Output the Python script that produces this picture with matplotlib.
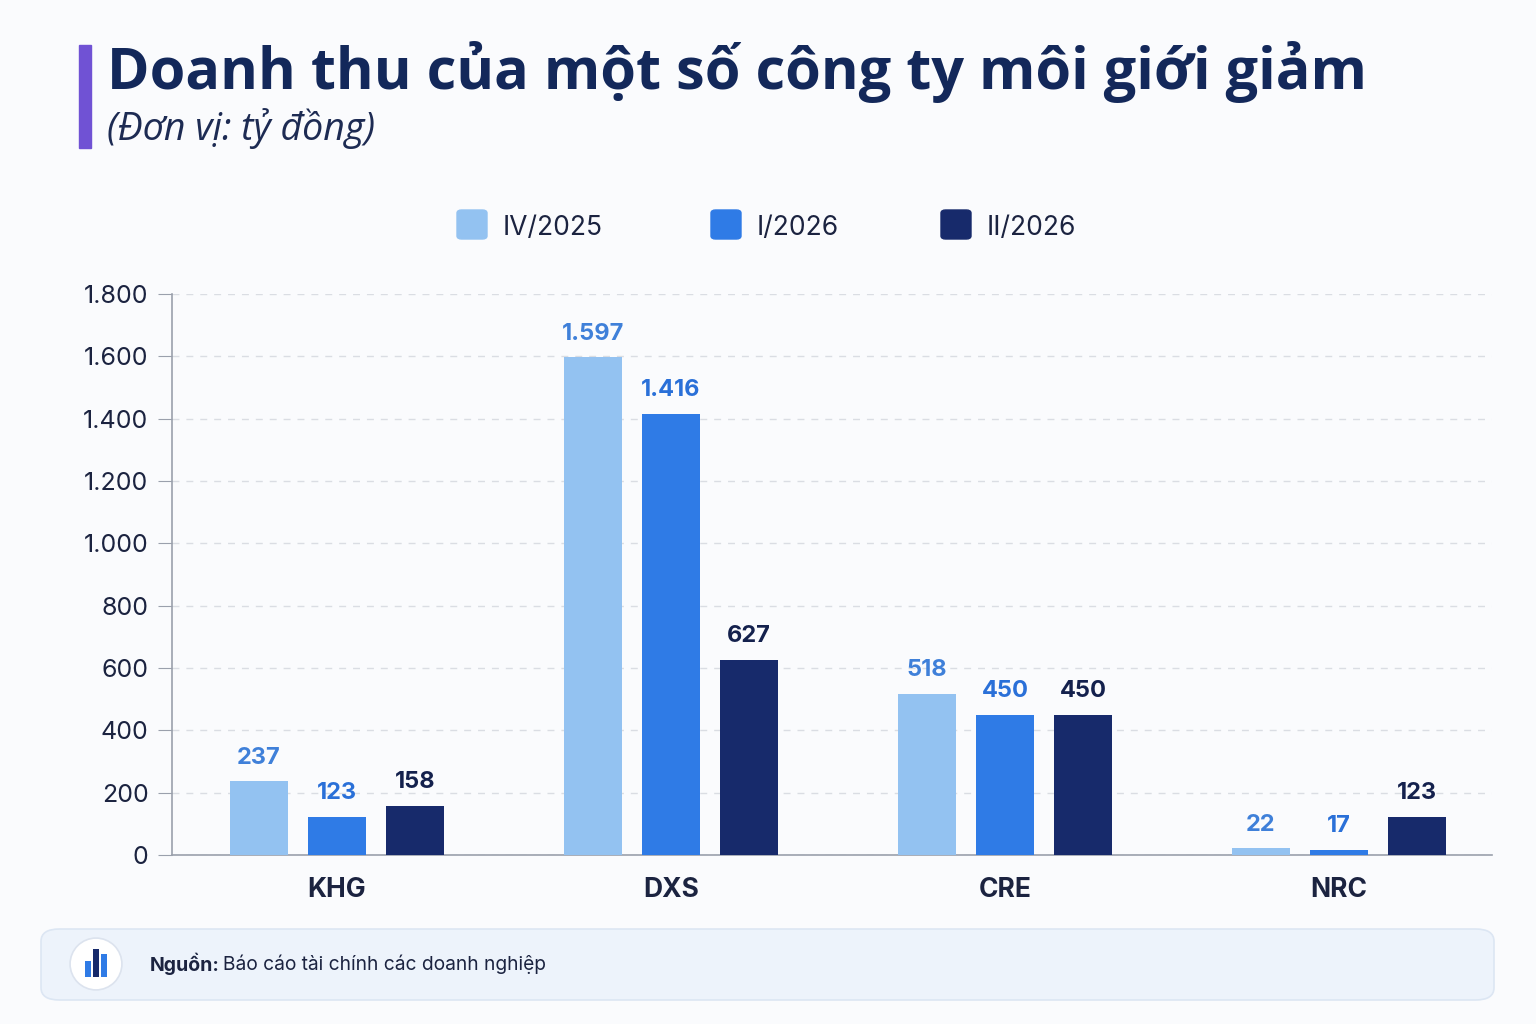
import numpy as np
import matplotlib.pyplot as plt
from matplotlib.patches import FancyBboxPatch, Rectangle, Circle

companies = ["KHG", "DXS", "CRE", "NRC"]
series_names = ["IV/2025", "I/2026", "II/2026"]
q4_2025 = [237, 1597, 518, 22]
q1_2026 = [123, 1416, 450, 17]
q2_2026 = [158, 627, 450, 123]
y_ticks = [0, 200, 400, 600, 800, 1000, 1200, 1400, 1600, 1800]

bar_colors = ["#93C2F1", "#2F7BE6", "#172A6B"]
label_colors = ["#3F80D9", "#2A70D8", "#14214D"]
navy = "#13285A"
text_dark = "#1B2340"


def fmt(v):
    return f"{v:,}".replace(",", ".")


plt.rcParams['font.family'] = ['Inter', 'DejaVu Sans']

fig = plt.figure(figsize=(15.36, 10.24), dpi=100)
fig.patch.set_facecolor("#FAFBFD")

# title block
fig.patches.append(Rectangle((79 / 1536, 1 - 148 / 1024), 12 / 1536, 103 / 1024,
                             transform=fig.transFigure, color="#7052D4"))
fig.text(107 / 1536, 1 - 72 / 1024, "Doanh thu của một số công ty môi giới giảm",
         fontsize=41.5, fontweight="bold", color=navy, family="Open Sans",
         va="center", ha="left")
fig.text(107 / 1536, 1 - 129 / 1024, "(Đơn vị: tỷ đồng)", fontsize=27,
         style="italic", color="#1D2B53", family="Open Sans", va="center", ha="left")

# legend
leg_x = [457, 711, 941]
for lx, name, c in zip(leg_x, series_names, bar_colors):
    fig.patches.append(FancyBboxPatch((lx / 1536, 1 - 239 / 1024), 30 / 1536, 29 / 1024,
                                      boxstyle="round,pad=0,rounding_size=0.003",
                                      transform=fig.transFigure, color=c))
    fig.text((lx + 46) / 1536, 1 - 228 / 1024, name, fontsize=19, color=text_dark,
             va="center", ha="left")

# main axes
ax = fig.add_axes([172 / 1536, 1 - 855 / 1024, 1320 / 1536, 561 / 1024])
ax.set_facecolor("none")
x = np.arange(len(companies))
w = 0.174
off = 0.234
for i, (vals, c, lc) in enumerate(zip([q4_2025, q1_2026, q2_2026], bar_colors, label_colors)):
    xs = x + (i - 1) * off
    ax.bar(xs, vals, width=w, color=c, zorder=3)
    for xi, v in zip(xs, vals):
        ax.text(xi, v + 40, fmt(v), ha="center", va="bottom", fontsize=17,
                fontweight="bold", color=lc, zorder=4)

ax.set_ylim(0, 1800)
ax.set_xlim(-0.494, 3.458)
ax.set_yticks(y_ticks)
ax.set_yticklabels([fmt(t) for t in y_ticks], fontsize=18, color=text_dark)
ax.set_xticks(x)
ax.set_xticklabels(companies, fontsize=19, fontweight="bold", color=text_dark)
ax.tick_params(axis="x", length=0, pad=16)
ax.tick_params(axis="y", length=10, color="#9AA0AC", pad=7)
ax.grid(axis="y", color="#DADDE3", linestyle=(0, (5, 5)), linewidth=1, zorder=0)
for s in ["top", "right"]:
    ax.spines[s].set_visible(False)
ax.spines["left"].set_color("#9AA0AC")
ax.spines["bottom"].set_color("#9AA0AC")
ax.spines["left"].set_linewidth(1.2)
ax.spines["bottom"].set_linewidth(1.2)

# source footer
fig.patches.append(FancyBboxPatch((41 / 1536, 1 - 1000 / 1024), 1453 / 1536, 71 / 1024,
                                  boxstyle="round,pad=0,rounding_size=0.012",
                                  transform=fig.transFigure, facecolor="#EDF3FB",
                                  edgecolor="#DCE6F3", linewidth=1.2, zorder=-1))
fax = fig.add_axes([69 / 1536, 1 - 991 / 1024, 54 / 1536, 54 / 1024])
fax.set_xlim(0, 1)
fax.set_ylim(0, 1)
fax.set_aspect("equal")
fax.axis("off")
fax.add_patch(Circle((0.5, 0.5), 0.48, facecolor="white", edgecolor="#DCE3EE", linewidth=1.2))
icon_h = [0.3, 0.52, 0.42]
icon_c = ["#2F7BE6", "#172A6B", "#2F7BE6"]
fax.bar([0.35, 0.5, 0.65], icon_h, width=0.11, bottom=0.26, color=icon_c)
fig.text(150 / 1536, 1 - 964 / 1024, "Nguồn:", fontsize=14, fontweight="bold",
         color=text_dark, va="center", ha="left")
fig.text(223 / 1536, 1 - 964 / 1024, "Báo cáo tài chính các doanh nghiệp", fontsize=13.8,
         color=text_dark, va="center", ha="left")

fig.savefig("out.png", dpi=100, facecolor=fig.get_facecolor())
